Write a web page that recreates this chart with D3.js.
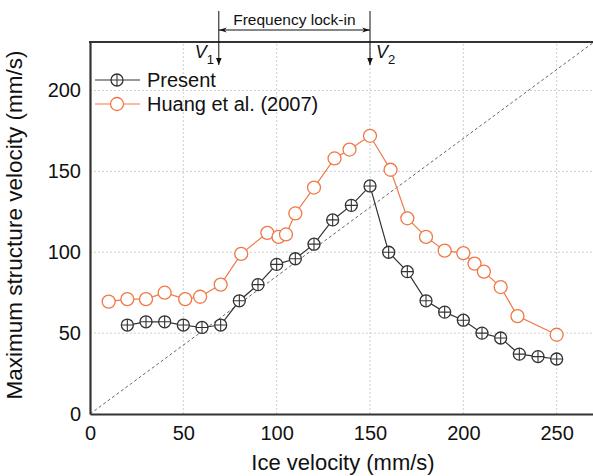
<!DOCTYPE html>
<html>
<head>
<meta charset="utf-8">
<script src="https://cdn.jsdelivr.net/npm/d3@7"></script>
<style>
  body { margin: 0; background: #fff; }
  text { font-family: "Liberation Sans", Arial, sans-serif; fill: #111; }
</style>
</head>
<body>
<script>
// ice velocity values (mm/s) for each series
const presentX = [20, 30, 40, 50, 60, 70, 80, 90, 100, 110, 120, 130, 140, 150,
                  160, 170, 180, 190, 200, 210, 220, 230, 240, 250];
const presentY = [55, 57, 57, 55, 53.5, 55, 70, 80, 92.5, 96, 105, 120, 129, 141,
                  100, 88, 70, 63, 58, 50, 47, 37, 35.5, 34];

const huangX = [10, 20, 30, 40, 51, 59, 70, 81, 95, 101, 105, 110, 120, 131, 139, 150,
                161, 170, 180, 190, 200, 206, 211, 220, 229, 250];
const huangY = [69.5, 71, 71, 75, 71, 72.5, 80, 99, 112, 109.5, 111, 124, 140, 158, 163.5, 172,
                151, 121, 109.5, 101, 99.5, 93, 88, 78.5, 60.5, 49];

const xTicks = [0, 50, 100, 150, 200, 250];
const yTicks = [0, 50, 100, 150, 200];
const lockIn = [69, 150]; // V1, V2

const width = 593, height = 476;
const orange = "#f07846", dark = "#333";

const svg = d3.select("body").append("svg")
    .attr("width", width)
    .attr("height", height);

const x = d3.scaleLinear().domain([0, 270]).range([90, 594]);
const y = d3.scaleLinear().domain([0, 230]).range([414, 42]);

// arrow heads
const defs = svg.append("defs");
defs.append("marker")
    .attr("id", "arr")
    .attr("viewBox", "0 0 10 10")
    .attr("refX", 10).attr("refY", 5)
    .attr("markerWidth", 7).attr("markerHeight", 7)
    .attr("markerUnits", "userSpaceOnUse")
    .attr("orient", "auto-start-reverse")
    .append("path")
    .attr("d", "M0,1 L10,5 L0,9 Z")
    .attr("fill", "#111");
defs.append("marker")
    .attr("id", "arrOpen")
    .attr("viewBox", "0 0 10 10")
    .attr("refX", 10).attr("refY", 5)
    .attr("markerWidth", 8).attr("markerHeight", 8)
    .attr("markerUnits", "userSpaceOnUse")
    .attr("orient", "auto-start-reverse")
    .append("path")
    .attr("d", "M0,2 L10,5 L0,8 L3,5 Z")
    .attr("fill", "#111");

// grid
svg.append("g").selectAll("line")
    .data(xTicks.slice(1))
    .join("line")
    .attr("x1", d => x(d)).attr("x2", d => x(d))
    .attr("y1", y(0)).attr("y2", y(230))
    .attr("stroke", "#cfcfcf").attr("stroke-dasharray", "2,2");
svg.append("g").selectAll("line")
    .data(yTicks.slice(1))
    .join("line")
    .attr("x1", x(0)).attr("x2", x(270))
    .attr("y1", d => y(d)).attr("y2", d => y(d))
    .attr("stroke", "#cfcfcf").attr("stroke-dasharray", "2,2");

// diagonal reference line
svg.append("line")
    .attr("x1", x(0)).attr("y1", y(0))
    .attr("x2", x(270)).attr("y2", y(230))
    .attr("stroke", "#666").attr("stroke-width", 1)
    .attr("stroke-dasharray", "3,2.5");

// axes
const xAxis = svg.append("g")
    .attr("transform", `translate(0,${y(0)})`)
    .call(d3.axisBottom(x).tickValues(xTicks).tickSize(0).tickPadding(12));
const yAxis = svg.append("g")
    .attr("transform", `translate(${x(0)},0)`)
    .call(d3.axisLeft(y).tickValues(yTicks).tickSize(0).tickPadding(9));
[xAxis, yAxis].forEach(g => {
    g.select(".domain").attr("stroke", dark).attr("stroke-width", 2.2);
    g.selectAll("text").attr("font-size", 20).attr("fill", "#111")
        .attr("font-family", "Liberation Sans, Arial, sans-serif");
});
// top frame
svg.append("line")
    .attr("x1", x(0) - 1).attr("x2", width)
    .attr("y1", y(230)).attr("y2", y(230))
    .attr("stroke", dark).attr("stroke-width", 2.2);

// axis titles
svg.append("text")
    .attr("x", 343).attr("y", 470)
    .attr("text-anchor", "middle")
    .attr("font-size", 22)
    .text("Ice velocity (mm/s)");
svg.append("text")
    .attr("transform", "translate(22,225) rotate(-90)")
    .attr("text-anchor", "middle")
    .attr("font-size", 22.5)
    .text("Maximum structure velocity (mm/s)");

// series
const line = d3.line().x(d => x(d[0])).y(d => y(d[1]));
const huang = d3.zip(huangX, huangY);
const present = d3.zip(presentX, presentY);

svg.append("path").datum(huang)
    .attr("d", line).attr("fill", "none")
    .attr("stroke", orange).attr("stroke-width", 1.2);
svg.append("g").selectAll("circle")
    .data(huang)
    .join("circle")
    .attr("cx", d => x(d[0])).attr("cy", d => y(d[1]))
    .attr("r", 6.5)
    .attr("fill", "#fff").attr("stroke", orange).attr("stroke-width", 1.3);

svg.append("path").datum(present)
    .attr("d", line).attr("fill", "none")
    .attr("stroke", dark).attr("stroke-width", 1.2);

function plusMarker(g, cx, cy) {
    g.append("circle").attr("cx", cx).attr("cy", cy).attr("r", 6)
        .attr("fill", "#fff").attr("stroke", dark).attr("stroke-width", 1.3);
    g.append("path")
        .attr("d", `M${cx - 6},${cy}H${cx + 6}M${cx},${cy - 6}V${cy + 6}`)
        .attr("stroke", dark).attr("stroke-width", 1.1);
}
const pg = svg.append("g");
present.forEach(d => plusMarker(pg, x(d[0]), y(d[1])));

// legend
const lg = svg.append("g");
lg.append("line").attr("x1", 95).attr("x2", 140).attr("y1", 80).attr("y2", 80)
    .attr("stroke", dark).attr("stroke-width", 1.2);
plusMarker(lg, 117, 80);
lg.append("text").attr("x", 147).attr("y", 87).attr("font-size", 20).text("Present");
lg.append("line").attr("x1", 95).attr("x2", 140).attr("y1", 104).attr("y2", 104)
    .attr("stroke", orange).attr("stroke-width", 1.2);
lg.append("circle").attr("cx", 117).attr("cy", 104).attr("r", 6.5)
    .attr("fill", "#fff").attr("stroke", orange).attr("stroke-width", 1.3);
lg.append("text").attr("x", 147).attr("y", 111).attr("font-size", 20).text("Huang et al. (2007)");

// frequency lock-in annotation
const ann = svg.append("g");
lockIn.forEach((v, i) => {
    ann.append("line")
        .attr("x1", x(v)).attr("x2", x(v))
        .attr("y1", 11).attr("y2", 65)
        .attr("stroke", "#111").attr("stroke-width", 1)
        .attr("marker-end", "url(#arr)");
    const t = ann.append("text")
        .attr("x", i === 0 ? x(v) - 24 : x(v) + 6)
        .attr("y", 58)
        .attr("font-size", 18)
        .attr("font-style", "italic");
    t.append("tspan").text("V");
    t.append("tspan").attr("font-size", 13).attr("font-style", "normal")
        .attr("dy", 6).text(i + 1);
});
ann.append("line")
    .attr("x1", x(lockIn[0])).attr("x2", x(lockIn[1]))
    .attr("y1", 30).attr("y2", 30)
    .attr("stroke", "#111").attr("stroke-width", 1)
    .attr("marker-start", "url(#arrOpen)")
    .attr("marker-end", "url(#arrOpen)");
ann.append("text")
    .attr("x", (x(lockIn[0]) + x(lockIn[1])) / 2)
    .attr("y", 25)
    .attr("text-anchor", "middle")
    .attr("font-size", 15.5)
    .text("Frequency lock-in");
</script>
</body>
</html>
